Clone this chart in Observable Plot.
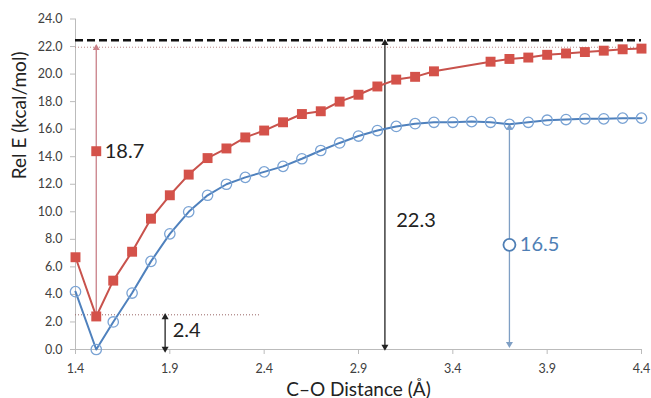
<!DOCTYPE html>
<html><head><meta charset="utf-8">
<script src="https://cdn.jsdelivr.net/npm/d3@7"></script>
<script src="https://cdn.jsdelivr.net/npm/@observablehq/plot@0.6"></script>
<style>body{margin:0;background:#fff}</style>
</head><body><div id="chart"></div>
<script>
const distances = [1.4,1.51,1.6,1.7,1.8,1.9,2.0,2.1,2.2,2.3,2.4,2.5,2.6,2.7,2.8,2.9,3.0,3.1,3.2,3.3,3.4,3.5,3.6,3.7,3.8,3.9,4.0,4.1,4.2,4.3,4.4];
const redE = [6.7,2.4,5.0,7.1,9.5,11.2,12.7,13.9,14.6,15.4,15.9,16.5,17.1,17.3,18.0,18.5,19.1,19.6,19.8,20.2,null,null,20.9,21.1,21.2,21.4,21.5,21.6,21.7,21.8,21.85];
const blueE = [4.2,0.0,2.0,4.1,6.4,8.4,10.0,11.2,12.0,12.5,12.9,13.3,13.85,14.45,15.0,15.5,15.9,16.2,16.4,16.5,16.5,16.55,16.5,16.35,16.5,16.65,16.7,16.75,16.75,16.8,16.8];
const xTicks = [1.4,1.9,2.4,2.9,3.4,3.9,4.4];
const yTicks = [0,2,4,6,8,10,12,14,16,18,20,22,24];
const refDashed = 22.45, refDotted = 21.95, lowDotted = 2.52;
// annotations: arrows [x, y1, y2, color, double]
const arrows = [
  {x:1.51, y1:2.7, y2:21.9, color:"#c98088", both:false},
  {x:3.04, y1:0.2, y2:22.25, color:"#222", both:true},
  {x:3.70, y1:0.4, y2:16.1, color:"#7f9fc4", both:true},
  {x:1.875, y1:0.05, y2:2.35, color:"#222", both:true}
];
const labels = [
  {x:1.555, y:14.4, text:"18.7", color:"#222"},
  {x:3.1, y:9.35, text:"22.3", color:"#222"},
  {x:3.755, y:7.6, text:"16.5", color:"#4f7fb5"},
  {x:1.915, y:1.4, text:"2.4", color:"#222"}
];

const red = distances.map((d,i)=>({x:d,y:redE[i]})).filter(d=>d.y!=null);
const blue = distances.map((d,i)=>({x:d,y:blueE[i]}));
const heads = [];
for (const a of arrows) {
  heads.push({x:a.x, y:a.y2, dir:"up", color:a.color});
  if (a.both) heads.push({x:a.x, y:a.y1, dir:"down", color:a.color});
}

const chart = Plot.plot({
  width: 651, height: 398,
  marginLeft: 75, marginRight: 10, marginTop: 18.5, marginBottom: 49,
  style: {fontFamily: "Lato, 'Open Sans', sans-serif", fontSize: "12px", color: "#404040", background: "#fff"},
  x: {domain: [1.4, 4.4]},
  y: {domain: [0, 24]},
  marks: [
    Plot.axisY({ticks: yTicks, tickFormat: d3.format(".1f"), tickSize: 5, tickPadding: 8, stroke: "#bbb", fill: "#404040", fontSize: 12.5, label: null}),
    Plot.axisX({ticks: xTicks, tickFormat: d3.format(".1f"), tickSize: 5, tickPadding: 10, stroke: "#bbb", fill: "#404040", fontSize: 12.5, label: null}),
    Plot.ruleX([1.4], {stroke: "#bbb"}),
    Plot.ruleY([0], {stroke: "#bbb"}),
    Plot.ruleY([refDotted], {x1: 1.4, x2: 4.4, stroke: "#b88", strokeWidth: 1, strokeDasharray: "1,2"}),
    Plot.ruleY([lowDotted], {x1: 1.4, x2: 2.38, stroke: "#966", strokeWidth: 1, strokeDasharray: "1,2"}),
    Plot.ruleY([refDashed], {x1: 1.4, x2: 4.4, stroke: "#111", strokeWidth: 2.5, strokeDasharray: "8,4"}),
    Plot.link(arrows, {x1: "x", x2: "x", y1: "y1", y2: "y2", stroke: "color", strokeWidth: 1.3}),
    Plot.dot(heads, {x: "x", y: "y", symbol: "triangle", r: 2.6, fill: "color", stroke: "none",
      rotate: d => d.dir === "up" ? 0 : 180}),
    Plot.line(blue, {x: "x", y: "y", stroke: "#4f81bd", strokeWidth: 2}),
    Plot.dot(blue, {x: "x", y: "y", r: 5.2, stroke: "#7aa3d4", strokeWidth: 1.3, fill: "white", fillOpacity: 0}),
    Plot.line(red, {x: "x", y: "y", stroke: "#c8524c", strokeWidth: 2}),
    Plot.dot(red, {x: "x", y: "y", symbol: "square", r: 5.6, fill: "#d4524a"}),
    Plot.dot([{x:1.51, y:14.4}], {x: "x", y: "y", symbol: "square", r: 5.6, fill: "#d4524a"}),
    Plot.dot([{x:3.70, y:7.6}], {x: "x", y: "y", r: 6, stroke: "#4f7fb5", strokeWidth: 1.8, fill: "white"}),
    Plot.text(labels, {x: "x", y: "y", text: "text", fill: "color", textAnchor: "start", fontSize: 20}),
    Plot.text(["Rel E (kcal/mol)"], {frameAnchor: "left", dx: -56, dy: -5, rotate: -90, fontSize: 19, fill: "#222"}),
    Plot.text(["C\u2013O Distance (\u00c5)"], {frameAnchor: "bottom", dy: 46, fontSize: 19, fill: "#222"})
  ]
});
document.getElementById("chart").appendChild(chart);
</script></body></html>
